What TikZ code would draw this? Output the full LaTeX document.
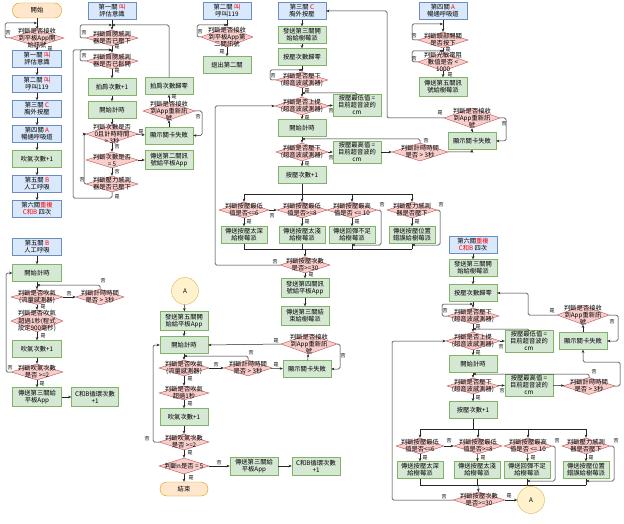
\documentclass[tikz,border=0pt]{standalone}
\usepackage{fontspec}
\newfontfamily\cjk{Noto Sans CJK TC}
\usetikzlibrary{arrows.meta,shapes.geometric}
\definecolor{bfill}{HTML}{DAE8FC}\definecolor{bdraw}{HTML}{6C8EBF}
\definecolor{gfill}{HTML}{D5E8D4}\definecolor{gdraw}{HTML}{82B366}
\definecolor{rfill}{HTML}{F8CECC}\definecolor{rdraw}{HTML}{B85450}
\definecolor{ofill}{HTML}{FFE6CC}\definecolor{odraw}{HTML}{D79B00}
\definecolor{yfill}{HTML}{FFF2CC}\definecolor{ydraw}{HTML}{D6B656}
\newcommand\rd[1]{\textcolor{red}{#1}}
\tikzset{
 txt/.style={font=\cjk\fontsize{6.3}{7.1}\selectfont, align=center, inner sep=0.5pt},
 bx/.style={txt, rectangle, minimum width=48pt, minimum height=17pt, inner sep=1pt},
 bbox/.style={bx, draw=bdraw, fill=bfill},
 gbox/.style={bx, draw=gdraw, fill=gfill},
 obox/.style={bx, draw=odraw, fill=ofill, rounded corners=7pt, minimum height=15pt},
 ycirc/.style={txt, circle, draw=ydraw, fill=yfill, minimum size=27pt},
 dia/.style={diamond, draw=rdraw, fill=rfill, minimum width=52pt, minimum height=17pt, inner sep=0pt},
 dtext/.style={txt},
 lab/.style={font=\cjk\fontsize{5}{5}\selectfont, inner sep=0pt},
 conn/.style={draw=black!85, line width=0.5pt, -{Stealth[length=3.2pt,width=2.6pt]}, rounded corners=1.5pt},
 ln/.style={draw=black!85, line width=0.5pt, rounded corners=1.5pt},
}
\newcommand\Dia[4][]{\node[dia,#1] (#2) at (#3) {}; \node[dtext] (#2-t) at (#2.center) {#4};}
\begin{document}
\begin{tikzpicture}[x=1pt,y=-1pt]
\useasboundingbox[fill=white] (0,0) rectangle (624,524);

% ---------------- left column
\node[obox, minimum width=49pt] (s0) at (37,10.5) {開始};
\Dia[minimum height=17pt,minimum width=54pt]{d0}{37,38}{判斷是否接收\\到平板App開\\始訊號}
\node[bbox, minimum width=49pt] (b1) at (37,59) {第一關 \rd{叫}\\評估意識};
\node[bbox, minimum width=49pt] (b2) at (37,84) {第二關 \rd{叫}\\呼叫119};
\node[bbox, minimum width=49pt] (b3) at (37,109) {第三關 \rd{C}\\胸外按壓};
\node[bbox, minimum width=49pt] (b4) at (37,134) {第四關 \rd{A}\\暢通呼吸道};
\node[gbox, minimum width=49pt] (b5) at (37,159) {吹氣次數+1};
\node[bbox, minimum width=49pt] (b6) at (37,184) {第五關 \rd{B}\\人工呼吸};
\node[bbox, minimum width=49pt] (b7) at (37,209) {第六關\rd{重複}\\\rd{C和B} 四次};
\coordinate (j0) at (37,23);
\draw[conn] (s0) -- (d0);
\draw[conn] (d0.west) -- (5,38) |- (j0);
\node[lab] (l01) at (8,33) {否};
\draw[conn] (d0) -- (b1);
\node[lab] (l02) at (50,49) {是};
\draw[conn] (b1) -- (b2); \draw[conn] (b2) -- (b3); \draw[conn] (b3) -- (b4);
\draw[conn] (b4) -- (b5); \draw[conn] (b5) -- (b6); \draw[conn] (b6) -- (b7);

% ---------------- column 2 (first stage)
\node[bbox] (c2b) at (112,11) {第一關 \rd{叫}\\評估意識};
\coordinate (j21) at (112,25);
\Dia[minimum height=16pt]{c2d1}{112,38}{判斷肩膀感測\\器是否已壓下}
\coordinate (j22) at (112,50);
\Dia[minimum height=16pt]{c2d2}{112,61}{判斷肩膀感測\\器是否已鬆開}
\node[gbox] (c2g1) at (112,87) {拍肩次數+1};
\node[gbox] (c2g2) at (112,110) {開始計時};
\Dia[minimum height=18pt]{c2d3}{112,134}{判斷次數是否\\0且計時時間\\> 3秒}
\Dia[minimum height=16pt]{c2d4}{112,160}{判斷次數是否\\= 5}
\Dia[minimum height=16pt]{c2d5}{112,184}{判斷壓力感測\\器是否已壓下}
\node[gbox] (c2g5) at (169,86) {拍肩次數歸零};
\Dia[minimum height=18pt]{c2d6}{169,111}{判斷是否接收\\到App重新訊\\號}
\node[gbox] (c2g3) at (169,135.5) {顯示關卡失敗};
\node[gbox, minimum height=19pt] (c2g4) at (169,160) {傳送第二關訊\\號給平板App};
\draw[conn] (c2b) -- (c2d1);
\draw[conn] (c2d1.west) -- (80,38) |- (j21);
\node[lab] (l21) at (84,33) {否};
\draw[conn] (c2d1) -- (c2d2);
\node[lab] (l22) at (117,47) {是};
\draw[conn] (c2d2.west) -- (80,61) |- (j22);
\node[lab] (l23) at (84,56) {否};
\draw[conn] (c2d2) -- (c2g1);
\node[lab] (l24) at (117,71) {是};
\draw[conn] (c2g1) -- (c2g2);
\draw[conn] (c2g2) -- (c2d3);
\draw[conn] (c2d3) -- (c2g3);
\node[lab] (l25) at (141,132) {是};
\draw[conn] (c2d3) -- (c2d4);
\node[lab] (l26) at (117,147) {否};
\draw[conn] (c2d4) -- (c2g4);
\draw[conn] (c2d4) -- (c2d5);
\node[lab] (l27) at (117,172) {否};
\draw[conn] (c2d5.west) -- (84,184) |- (c2d3.west);
\node[lab] (l28) at (82,180) {否};
\draw[conn] (c2d5.south) |- (73,198) |- (j22);
\node[lab] (l29) at (117,197) {是};
\draw[conn] (c2g5.north) |- (j21);
\draw[conn] (c2g3) -- (c2d6);
\draw[conn] (c2d6) -- (c2g5);
\node[lab] (l2a) at (174,97) {是};
\draw[conn] (c2d6.east) -- (202,111) |- (c2g3.east);
\node[lab] (l2b) at (198,117) {否};

% ---------------- column 3 (second stage)
\node[bbox] (c3b) at (227,11) {第二關 \rd{叫}\\呼叫119};
\coordinate (j31) at (227,25);
\Dia[minimum height=20pt]{c3d1}{227,37}{判斷是否接收\\到平板App第\\二關訊號}
\node[gbox] (c3g1) at (227,65) {退出第二關};
\draw[conn] (c3b) -- (c3d1);
\draw[conn] (c3d1.west) -- (197,37) |- (j31);
\node[lab] (l31) at (200,32) {否};
\draw[conn] (c3d1) -- (c3g1);
\node[lab] (l32) at (222,52) {是};

% ---------------- column 4 (third stage C)
\node[bbox] (c4b) at (302,11) {第三關 \rd{C}\\胸外按壓};
\node[gbox] (c4g1) at (302,35) {發送第三關開\\始給樹莓派};
\node[gbox] (c4g2) at (302,57) {按壓次數歸零};
\coordinate (j41) at (302,70);
\Dia[minimum height=16pt]{c4d1}{302,80}{判斷是否壓下\\(超音波感測器)}
\coordinate (j42) at (302,93);
\Dia[minimum height=18pt,minimum width=54pt]{c4d2}{302,106}{判斷是否上提\\(超音波感測器)}
\node[gbox, minimum height=20pt] (c4g3) at (357,105) {按壓最低值 =\\目前超音波的\\cm};
\node[gbox] (c4g4) at (302,128) {開始計時};
\coordinate (j43) at (302,139);
\Dia[minimum height=18pt]{c4d3}{302,152}{判斷是否壓下\\(超音波感測器)}
\node[gbox, minimum height=20pt] (c4g5) at (357,152) {按壓最高值 =\\目前超音波的\\cm};
\Dia[minimum height=18pt,minimum width=56pt]{c4d4}{420,152}{判斷計時時間\\是否 > 3秒}
\Dia[minimum height=20pt,minimum width=56pt]{c4k}{472,118}{判斷是否接收\\到App重新訊\\號}
\node[gbox] (c4j) at (472,141) {顯示關卡失敗};
\node[gbox] (c4g6) at (302,175) {按壓次數+1};
\draw[conn] (c4b) -- (c4g1); \draw[conn] (c4g1) -- (c4g2); \draw[conn] (c4g2) -- (c4d1);
\draw[conn] (c4d1.west) -- (270,80) |- (j41);
\node[lab] (l41) at (273,76) {否};
\draw[conn] (c4d1) -- (c4d2);
\node[lab] (l42) at (307,91) {是};
\draw[conn] (c4d2) -- (c4g3);
\node[lab] (l43) at (331,111) {否};
\draw[conn] (c4g3.north) |- (j42);
\draw[conn] (c4d2) -- (c4g4);
\node[lab] (l44) at (307,118) {是};
\draw[conn] (c4g4) -- (c4d3);
\draw[conn] (c4d3) -- (c4g5);
\node[lab] (l45) at (331,158) {否};
\draw[conn] (c4g5) -- (c4d4);
\draw[conn] (c4d4.north) |- (j43);
\node[lab] (l46) at (426,141) {否};
\draw[conn] (c4d4.east) -| (c4j.south);
\draw[conn] (c4j) -- (c4k);
\draw[conn] (c4k.west) -- (387,118) |- (c4b.east);
\node[lab] (l47) at (440,113) {是};
\draw[conn] (c4k.east) -- (506,118) |- (c4j.east);
\node[lab] (l48) at (504,124) {否};
\draw[conn] (c4d3) -- (c4g6);
\node[lab] (l49) at (307,164) {是};
% four checks
\coordinate (cb0) at (302,194);
\coordinate (cb1) at (244,194); \coordinate (cb4) at (412,194);
\coordinate (cc1) at (352,194);
\draw[ln] (c4g6) -- (cb0);
\draw[ln] (cb1) -- (cb4);
\Dia[minimum width=50pt,minimum height=16pt]{c4e1}{244,210}{判斷按壓最低\\值是否<=6}
\Dia[minimum width=50pt,minimum height=16pt]{c4e2}{302,210}{判斷按壓最低\\值是否>=8}
\Dia[minimum width=50pt,minimum height=16pt]{c4e3}{352,210}{判斷按壓最高\\值是否 <= 10}
\Dia[minimum width=50pt,minimum height=16pt]{c4e4}{412,210}{判斷壓力感測\\器是否壓下}
\draw[conn] (cb1) -- (c4e1); \draw[conn] (cb0) -- (c4e2);
\draw[conn] (cc1) -- (c4e3); \draw[conn] (cb4) -- (c4e4);
\node[gbox, minimum width=46pt] (c4f1) at (244,235) {傳送按壓太深\\給樹莓派};
\node[gbox, minimum width=46pt] (c4f2) at (302,235) {傳送按壓太淺\\給樹莓派};
\node[gbox, minimum width=46pt] (c4f3) at (352,235) {傳送回彈不足\\給樹莓派};
\node[gbox, minimum width=46pt] (c4f4) at (412,235) {傳送按壓位置\\錯誤給樹莓派};
\draw[conn] (c4e1) -- (c4f1); \draw[conn] (c4e2) -- (c4f2);
\draw[conn] (c4e3) -- (c4f3); \draw[conn] (c4e4) -- (c4f4);
\node[lab] (l4a) at (249,222) {是}; \node[lab] (l4b) at (307,222) {是};
\node[lab] (l4c) at (357,222) {是}; \node[lab] (l4d) at (417,222) {是};
\draw[conn] (c4e1.east) -- (c4e2.west);
\node[lab] (l4e) at (272,216) {否};
\coordinate (cx3) at (352,245); \coordinate (cx4) at (412,245);
\draw[conn] (c4e3.east) -| (381,245) -- (cx3);
\node[lab] (l4f) at (382,205) {否};
\draw[conn] (c4e4.east) -| (440,245) -- (cx4);
\node[lab] (l4g) at (441,205) {否};
\coordinate (cy1) at (244,249); \coordinate (cy4) at (412,249);
\coordinate (cy0) at (305,249);
\draw[ln] (c4f1) -- (cy1); \draw[ln] (c4f2) -- (302,249); \draw[ln] (c4f3) -- (352,249); \draw[ln] (c4f4) -- (cy4);
\draw[ln] (cy1) -- (cy4);
\Dia[minimum width=50pt,minimum height=16pt]{c4h}{305,265}{判斷按壓次數\\是否>=30}
\draw[conn] (cy0) -- (c4h);
\draw[conn] (c4h.west) -- (215,265) |- (c4d2.west);
\node[lab] (l4h) at (275,262) {否};
\node[gbox, minimum height=19pt] (c4i1) at (305,288) {發送第四關訊\\號給平板App};
\node[gbox, minimum height=19pt] (c4i2) at (305,316) {傳送第三關結\\束給樹莓派};
\draw[conn] (c4h) -- (c4i1);
\node[lab] (l4i) at (311,275) {是};
\draw[conn] (c4i1) -- (c4i2);

% ---------------- column 5 (fourth stage A)
\node[bbox] (c5b) at (443,11) {第四關 \rd{A}\\暢通呼吸道};
\coordinate (j51) at (443,24);
\Dia[minimum width=50pt,minimum height=16pt]{c5d1}{443,40}{判斷頭部開關\\是否按下}
\coordinate (j52) at (443,51);
\Dia[minimum width=50pt,minimum height=18pt]{c5d2}{443,62}{判斷光敏電阻\\數值是否 <\\1000}
\node[gbox, minimum height=19pt] (c5g) at (443,87) {傳送第五關訊\\號給樹莓派};
\draw[conn] (c5b) -- (c5d1);
\draw[conn] (c5d1.west) -- (412,40) |- (j51);
\node[lab] (l51) at (414,36) {否};
\draw[conn] (c5d1) -- (c5d2);
\node[lab] (l52) at (448,50) {是};
\draw[conn] (c5d2.west) -- (412,62) |- (j52);
\node[lab] (l53) at (414,59) {否};
\draw[conn] (c5d2) -- (c5g);
\node[lab] (l54) at (450,75) {是};

% ---------------- fifth stage (left bottom)
\node[bbox, minimum width=49pt] (f1) at (37,247) {第五關 \rd{B}\\人工呼吸};
\node[gbox, minimum width=49pt] (f2) at (37,273) {開始計時};
\coordinate (jf) at (37,285);
\Dia[minimum width=52pt,minimum height=15pt]{f3}{37,297}{判斷是否吹氣\\(流量感測器)}
\Dia[minimum width=48pt,minimum height=16pt]{f4}{100,297}{判斷計時時間\\是否 > 3秒}
\Dia[minimum width=52pt,minimum height=22pt]{f5}{37,321}{判斷是否吹氣\\超過1秒(程式\\設定900毫秒)}
\node[gbox, minimum width=49pt] (f6) at (37,349) {吹氣次數+1};
\Dia[minimum width=52pt,minimum height=16pt]{f7}{37,372}{判斷吹氣次數\\是否 >=2}
\node[gbox, minimum width=49pt, minimum height=19pt] (f8) at (37,397) {傳送第三關給\\平板App};
\node[gbox, minimum width=47pt, minimum height=19pt] (f9) at (95,397) {C和B循環次數\\+1};
\draw[conn] (f1) -- (f2); \draw[conn] (f2) -- (f3);
\draw[conn] (f3) -- (f4);
\node[lab] (lf1) at (69,294) {否};
\draw[conn] (f4.north) |- (jf);
\node[lab] (lf2) at (103,281) {否};
\draw[conn] (f3) -- (f5);
\node[lab] (lf3) at (43,307) {是};
\draw[conn] (f5) -- (f6);
\node[lab] (lf4) at (43,336) {是};
\draw[conn] (f6) -- (f7);
\draw[conn] (f7.west) -- (6,372) |- (f2.west);
\node[lab] (lf5) at (10,368) {否};
\draw[conn] (f7) -- (f8);
\node[lab] (lf6) at (42,384) {是};
\draw[conn] (f8) -- (f9);

% ---------------- middle bottom (after A)
\node[ycirc] (a1) at (185,291) {A};
\node[gbox, minimum height=19pt] (m1) at (184,321) {發送第五關開\\始給平板App};
\node[gbox] (m2) at (184,345) {開始計時};
\coordinate (jm) at (184,356);
\Dia[minimum width=50pt,minimum height=16pt]{m3}{184,368}{判斷是否吹氣\\(流量感測器)}
\Dia[minimum width=48pt,minimum height=16pt]{m4}{248,368}{判斷計時時間\\是否 > 3秒}
\node[gbox] (m5) at (307,369) {顯示關卡失敗};
\Dia[minimum width=56pt,minimum height=20pt]{m6}{309,344}{判斷是否接收\\到App重新訊\\號}
\Dia[minimum width=50pt,minimum height=14pt]{m7}{184,393}{判斷是否吹氣\\超過1秒}
\node[gbox] (m8) at (184,417) {吹氣次數+1};
\Dia[minimum width=50pt,minimum height=16pt]{m9}{184,442}{判斷吹氣次數\\是否 >=2}
\Dia[minimum width=50pt,minimum height=16pt]{m10}{184,466}{判斷n是否 = 5}
\node[gbox, minimum height=18pt] (m11) at (254,466) {傳送第三關給\\平板App};
\node[gbox, minimum height=18pt] (m12) at (316,466) {C和B循環次數\\+1};
\node[obox, minimum height=14pt] (m13) at (184,489) {結束};
\draw[conn] (a1) -- (m1); \draw[conn] (m1) -- (m2); \draw[conn] (m2) -- (m3);
\draw[conn] (m3) -- (m4);
\node[lab] (lm1) at (216,365) {否};
\draw[conn] (m4.north) |- (jm);
\node[lab] (lm2) at (251,353) {否};
\draw[conn] (m4) -- (m5);
\node[lab] (lm3) at (276,365) {是};
\draw[conn] (m5) -- (m6);
\draw[conn] (m6.west) -- (m2.east);
\node[lab] (lm4) at (276,341) {是};
\draw[conn] (m6.east) -- (340,344) |- (m5.east);
\node[lab] (lm5) at (343,356) {否};
\draw[conn] (m3) -- (m7);
\node[lab] (lm6) at (190,379) {是};
\draw[conn] (m7) -- (m8);
\node[lab] (lm7) at (190,404) {是};
\draw[conn] (m8) -- (m9);
\draw[conn] (m9.west) -- (153,442) |- (m2.west);
\node[lab] (lm8) at (147,439) {否};
\draw[conn] (m9) -- (m10);
\node[lab] (lm9) at (190,453) {是};
\draw[conn] (m10) -- (m11);
\node[lab] (lma) at (219,463) {否};
\draw[conn] (m11) -- (m12);
\draw[conn] (m10) -- (m13);
\node[lab] (lmb) at (191,478) {是};

% ---------------- sixth stage (right bottom)
\node[bbox] (s1) at (473,245) {第六關\rd{重複}\\\rd{C和B} 四次};
\node[gbox] (s2) at (473,268) {發送第三關開\\始給樹莓派};
\node[gbox] (s3) at (473,293) {按壓次數歸零};
\coordinate (js1) at (473,304);
\Dia[minimum height=16pt]{s4}{473,316}{判斷是否壓下\\(超音波感測器)}
\coordinate (js2) at (473,329);
\Dia[minimum height=18pt,minimum width=54pt]{s5}{473,341}{判斷是否上提\\(超音波感測器)}
\node[gbox, minimum height=20pt] (s6) at (529,341) {按壓最低值 =\\目前超音波的\\cm};
\node[gbox] (s7) at (473,364) {開始計時};
\coordinate (js3) at (473,374);
\Dia[minimum height=16pt]{s8}{473,386}{判斷是否壓下\\(超音波感測器)}
\node[gbox, minimum height=20pt] (s9) at (529,385) {按壓最高值 =\\目前超音波的\\cm};
\Dia[minimum width=52pt,minimum height=17pt]{s10}{589,386}{判斷計時時間\\是否 > 3秒}
\node[gbox] (s11) at (583,341) {顯示關卡失敗};
\Dia[minimum width=52pt,minimum height=19pt]{s12}{583,315}{判斷是否接收\\到App重新訊\\號}
\node[gbox] (s13) at (473,410) {按壓次數+1};
\draw[conn] (s1) -- (s2); \draw[conn] (s2) -- (s3); \draw[conn] (s3) -- (s4);
\draw[conn] (s4.west) -- (442,316) |- (js1);
\node[lab] (ls1) at (445,311) {否};
\draw[conn] (s4) -- (s5);
\node[lab] (ls2) at (478,327) {是};
\draw[conn] (s5) -- (s6);
\node[lab] (ls3) at (501,347) {否};
\draw[conn] (s6.north) |- (js2);
\draw[conn] (s5) -- (s7);
\node[lab] (ls4) at (478,353) {是};
\draw[conn] (s7) -- (s8);
\draw[conn] (s8) -- (s9);
\node[lab] (ls5) at (502,391) {否};
\draw[conn] (s9) -- (s10);
\draw[conn] (s10.north) |- (js3);
\node[lab] (ls6) at (594,372) {否};
\draw[conn] (s10.east) -| (620,362) -| (s11.south);
\draw[conn] (s11) -- (s12);
\draw[conn] (s12.west) -- (528,315) |- (s3.east);
\node[lab] (ls7) at (552,311) {是};
\draw[conn] (s12.east) -- (618,315) |- (s11.east);
\node[lab] (ls8) at (612,322) {否};
\draw[conn] (s8) -- (s13);
\node[lab] (ls9) at (478,398) {是};
\coordinate (sb0) at (473,429); \coordinate (sb1) at (420,429);
\coordinate (sb2) at (478,429); \coordinate (sb3) at (528,429); \coordinate (sb4) at (586,429);
\draw[ln] (s13) -- (sb0); \draw[ln] (sb1) -- (sb4);
\Dia[minimum width=48pt,minimum height=16pt]{t1}{420,446}{判斷按壓最低\\值是否<=6}
\Dia[minimum width=48pt,minimum height=16pt]{t2}{478,446}{判斷按壓最低\\值是否>=8}
\Dia[minimum width=48pt,minimum height=16pt]{t3}{528,446}{判斷按壓最高\\值是否 <= 10}
\Dia[minimum width=48pt,minimum height=16pt]{t4}{586,446}{判斷壓力感測\\器是否壓下}
\draw[conn] (sb1) -- (t1); \draw[conn] (sb2) -- (t2); \draw[conn] (sb3) -- (t3); \draw[conn] (sb4) -- (t4);
\node[gbox, minimum width=46pt] (u1) at (420,470) {傳送按壓太深\\給樹莓派};
\node[gbox, minimum width=46pt] (u2) at (477,470) {傳送按壓太淺\\給樹莓派};
\node[gbox, minimum width=46pt] (u3) at (527,470) {傳送回彈不足\\給樹莓派};
\node[gbox, minimum width=46pt] (u4) at (586,470) {傳送按壓位置\\錯誤給樹莓派};
\draw[conn] (t1) -- (u1); \draw[conn] (t2) -- (u2); \draw[conn] (t3) -- (u3); \draw[conn] (t4) -- (u4);
\node[lab] (lt1) at (425,458) {是}; \node[lab] (lt2) at (483,458) {是};
\node[lab] (lt3) at (533,458) {是}; \node[lab] (lt4) at (591,458) {是};
\draw[conn] (t1.east) -- (t2.west);
\node[lab] (lt5) at (449,441) {否};
\coordinate (sx3) at (527,481); \coordinate (sx4) at (586,481);
\draw[conn] (t3.east) -| (555,481) -- (sx3);
\node[lab] (lt6) at (557,441) {否};
\draw[conn] (t4.east) -| (614,481) -- (sx4);
\node[lab] (lt7) at (616,441) {否};
\coordinate (sy1) at (420,485); \coordinate (sy4) at (586,485); \coordinate (sy0) at (478,485);
\draw[ln] (u1) -- (sy1); \draw[ln] (u2) -- (477,485); \draw[ln] (u3) -- (527,485); \draw[ln] (u4) -- (sy4);
\draw[ln] (sy1) -- (sy4);
\Dia[minimum width=52pt,minimum height=16pt]{s14}{479,500}{判斷按壓次數\\是否>=30}
\draw[conn] (sy0) -- (s14);
\draw[conn] (s14.west) -- (392,500) |- (s5.west);
\node[lab] (ls10) at (444,497) {否};
\node[ycirc] (a2) at (531,500) {A};
\draw[conn] (s14) -- (a2);
\node[lab] (ls11) at (509,496) {是};
\end{tikzpicture}
\end{document}
